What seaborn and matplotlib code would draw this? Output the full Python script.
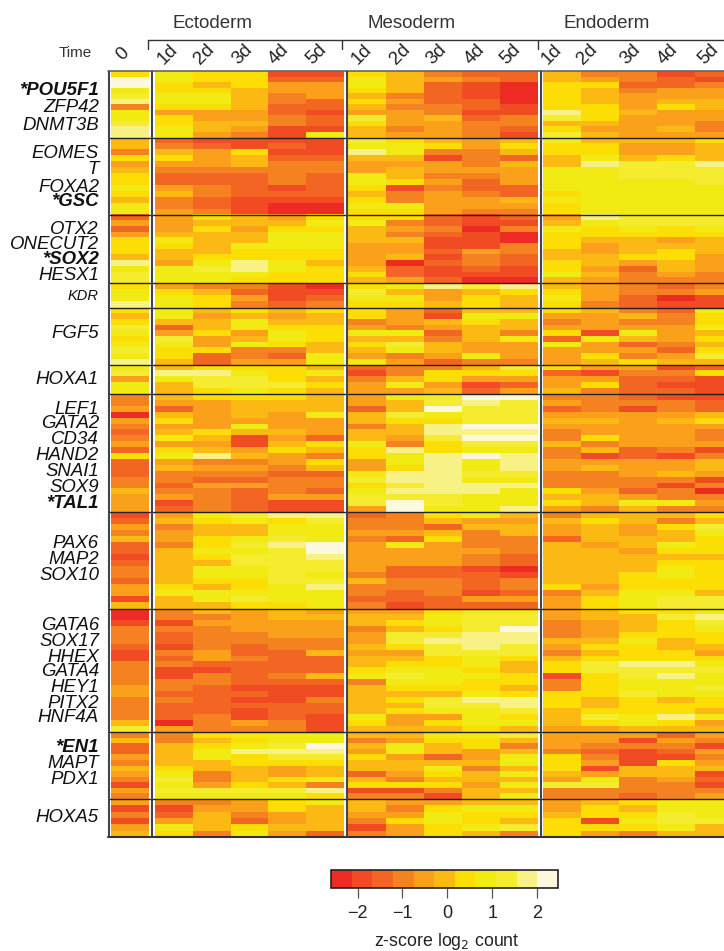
import matplotlib
matplotlib.use("Agg")
import matplotlib.pyplot as plt
from matplotlib.colors import ListedColormap
import numpy as np
import seaborn as sns

# colour bins of the key, low to high
bin_colors = ["#EE2A24", "#F04B23", "#F36523", "#F58220", "#FAA01B", "#FDB913",
              "#FCDD04", "#F2EA13", "#F5EC30", "#F7F186", "#FEF9DC"]
z_min, z_max = -2.59, 2.46

# every cluster: one string per column (0, ecto 1-5d, meso 1-5d, endo 1-5d),
# one hex digit per row = bin of the key
pou5f1 = ["6aa789377899", "776677646677", "665677644554", "666555544543", "124433223311", "124442212217",
          "677656548655", "555534344434", "342222335444", "231112212333", "220000113321",
          "556666698568", "346555666545", "332344454444", "122445644454", "213445544334"]
eomes = ["5536456676577", "2356432245334", "1244432233223", "1165532222111", "1212333312100", "1112332222100",
         "8795447765676", "6775455613376", "5631443434444", "4433343223443", "5652544422543",
         "7665577776766", "5667977777777", "5445888777777", "5446888777777", "6555988877777"]
otx2 = ["242466659788", "444576554777", "656555567877", "554557669976", "456777667766", "676777665666",
        "675554444565", "634354450224", "223211212112", "110111433210", "213003322110",
        "457666556675", "976654455454", "887655564233", "886645665543", "887655544433"]
kdr = ["6779", "4677", "3566", "3243", "1112", "0123",
       "6876", "7576", "9445", "8566", "9655",
       "5676", "4443", "3322", "2301", "3411"]
fgf5 = ["6568767879", "7752487665", "5455644622", "6577457334", "5456776324", "6556665577",
        "6634756547", "4443758734", "2154235542", "5765554473", "5755374443",
        "6434627444", "5444174465", "3534752436", "2334443245", "7667565685"]
hoxa1 = ["78477", "59755", "69886", "67887", "66686", "57565",
         "21344", "33574", "36645", "56412", "86424",
         "62445", "41463", "43222", "13212", "26111"]
lef1 = ["33404323426222335444", "54256457467453323412", "64444465459343243333", "65554751145343242222",
        "65544454564432333411", "55574442653652332411",
        "44255355766447867884", "755865543977699898aa", "88a76998669999999887", "a9888a9a87a778799777",
        "a8888a9a879998797779",
        "34245433533443336564", "33345446351453334553", "23144444422444332475", "13345444431445313373",
        "12256433413554130343"]
pax6 = ["1243522123324415", "4534435555556755", "7655667657765775", "8755787887766786", "9677898888887776",
        "98777aa988789777",
        "2334344444353323", "3334274442233221", "6525644442233322", "7453334331222142", "5455333220133242",
        "3544255555556344", "5655545555554566", "5544554555666777", "5365576567766788", "6587666566666588"]
gata6 = ["001333211333344333358", "331322132311332322204", "534333344213322222333", "444433223222212121143",
         "554443322223211122233", "454443352225211322111",
         "455344545567355555765", "456588645678765656445", "677689886677765887465", "788899987767667987776",
         "788a99886556656998675",
         "443335435661336665554", "554445656886666556864", "655567666988778666775", "686665566989777566965",
         "798766546787787665745"]
en1 = ["352243543143", "335555678787", "656775533487", "767966555687", "778986446587", "77a986557396",
       "535465525613", "547745543613", "765525765631", "766445355455", "853577575757",
       "444366654833", "443234147833", "413111553332", "243216554333", "431434512134"]
hoxa5 = ["413145", "312476", "345553", "443267", "664454", "755552",
         "554313", "434644", "467766", "576675", "576583",
         "445666", "566164", "656763", "778875", "777855"]
clusters = [pou5f1, eomes, otx2, kdr, fgf5, hoxa1, lef1, pax6, gata6, en1, hoxa5]

germ_layers = ["Ectoderm", "Mesoderm", "Endoderm"]
day_labels = ["1d", "2d", "3d", "4d", "5d"]
genes = ["*POU5F1", "ZFP42", "DNMT3B", "EOMES", "T", "FOXA2", "*GSC", "OTX2", "ONECUT2", "*SOX2", "HESX1",
         "KDR", "FGF5", "HOXA1", "LEF1", "GATA2", "CD34", "HAND2", "SNAI1", "SOX9", "*TAL1", "PAX6", "MAP2",
         "SOX10", "GATA6", "SOX17", "HHEX", "GATA4", "HEY1", "PITX2", "HNF4A", "*EN1", "MAPT", "PDX1", "HOXA5"]

# layout, in pixels of the 724x951 picture
W, H = 724, 951
cluster_edges = [71, 137.5, 214.5, 283, 307.5, 364.5, 394, 512, 608.5, 732, 799, 837]
panels = [(111, 149, 0, 1), (155, 344, 1, 6), (348, 538, 6, 11), (543, 733, 11, 16)]
gene_y = [90.5, 108, 126, 154, 169.5, 187, 202, 230, 244.5, 259, 276, 295.5, 334, 379, 409, 424, 440, 456, 472,
          487, 503, 543, 560, 575, 625, 641, 657, 671, 687, 703, 718, 747, 763, 779, 818]
day_x = [168, 204, 242, 279, 316, 362, 400, 436, 475, 510, 552, 587, 630, 668, 708]

sns.set_style("white")
plt.rcParams["font.family"] = ["Liberation Sans", "DejaVu Sans"]
plt.rcParams["text.color"] = "#222222"

cmap = ListedColormap(bin_colors)
step = (z_max - z_min) / len(bin_colors)


def to_zscore(columns):
    bins = np.array([[int(c, 16) for c in col] for col in columns]).T
    return z_min + (bins + 0.5) * step


def px_axes(x0, y0, x1, y1, **kw):
    return fig.add_axes([x0 / W, 1 - y1 / H, (x1 - x0) / W, (y1 - y0) / H], **kw)


fig = plt.figure(figsize=(W / 100, H / 100), dpi=100)
cax = px_axes(331, 869.5, 558, 888)

for k, cluster in enumerate(clusters):
    z = to_zscore(cluster)
    for x0, x1, a, b in panels:
        ax = px_axes(x0, cluster_edges[k], x1, cluster_edges[k + 1])
        first = k == 0 and a == 0
        sns.heatmap(z[:, a:b], ax=ax, cmap=cmap, vmin=z_min, vmax=z_max, xticklabels=False, yticklabels=False,
                    cbar=first, cbar_ax=cax if first else None,
                    cbar_kws={"orientation": "horizontal", "ticks": [-2, -1, 0, 1, 2]})
        if first:
            cb = ax.collections[0].colorbar

cb.outline.set_visible(True)
cb.outline.set_linewidth(1.2)
cb.outline.set_edgecolor("#222222")
cax.tick_params(axis="x", bottom=True, length=7.5, width=0.9, color="#555555", labelsize=13, pad=5,
                labelcolor="#222222")

# overlay for rules and text
over = px_axes(0, 0, W, H)
over.set_xlim(0, W)
over.set_ylim(H, 0)
over.set_axis_off()
over.patch.set_alpha(0)

for y in cluster_edges[1:-1]:
    over.plot([108, W], [y, y], color="#222222", lw=1.0, solid_capstyle="butt")
over.plot([108, W], [71, 71], color="#666666", lw=1.2)
over.plot([108, W], [837, 837], color="#333333", lw=1.5)
for x in [108.5, 152, 346.5, 541]:
    over.plot([x, x], [71, 837], color="#444444", lw=1.5, solid_capstyle="butt")

# germ layer bracket
over.plot([148, W], [39.5, 39.5], color="#333333", lw=1.0)
for x in [148, 342, 538]:
    over.plot([x, x], [39.5, 49], color="#333333", lw=1.0)
for name, x in zip(germ_layers, [212, 412, 607]):
    over.text(x, 23.5, name, ha="center", va="center", fontsize=13.5, color="#333333")

over.text(75, 53, "Time", ha="center", va="center", fontsize=11, color="#333333")
over.text(123, 54, "0", ha="center", va="center", rotation=45, fontsize=13.5)
for i, x in enumerate(day_x):
    over.text(x, 54, day_labels[i % 5], ha="center", va="center", rotation=45, fontsize=13.5)

for gene, y in zip(genes, gene_y):
    over.text(99, y, gene, ha="right", va="center", style="italic",
              weight="bold" if gene.startswith("*") else "normal",
              fontsize=10.5 if gene == "KDR" else 13.4, color="#111111")

over.text(447, 941, "z-score log$_2$ count", ha="center", va="center", fontsize=12.8)

fig.savefig("out.png", dpi=100, facecolor="white")
